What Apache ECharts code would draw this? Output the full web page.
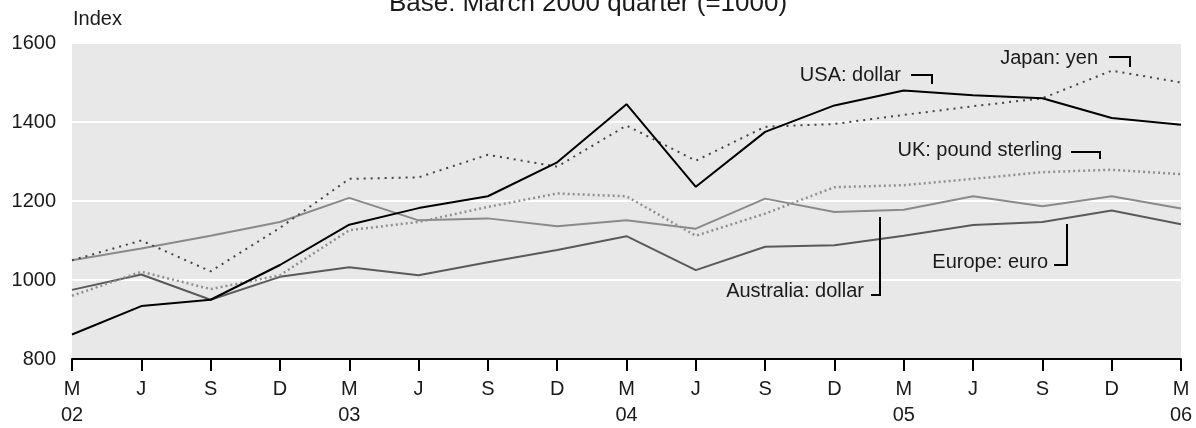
<!DOCTYPE html>
<html><head><meta charset="utf-8">
<script src="https://cdn.jsdelivr.net/npm/echarts@6/dist/echarts.min.js"></script>
<style>html,body{margin:0;padding:0;background:#fff}#c{width:1196px;height:428px}</style>
</head><body><div id="c"></div>
<script>
// Quarter labels
const months = ['M','J','S','D','M','J','S','D','M','J','S','D','M','J','S','D','M'];
const years  = ['02','','','','03','','','','04','','','','05','','','','06'];
// Index values, base March 2000 quarter = 1000
const usaDollar       = [862, 934, 950, 1038, 1140, 1182, 1212, 1298, 1445, 1236, 1375, 1442, 1480, 1468, 1460, 1410, 1393];
const japanYen        = [1050, 1100, 1022, 1132, 1256, 1260, 1317, 1287, 1391, 1302, 1388, 1395, 1418, 1440, 1460, 1530, 1500];
const ukPound         = [960, 1021, 977, 1012, 1126, 1147, 1185, 1219, 1212, 1112, 1168, 1235, 1240, 1256, 1273, 1279, 1268];
const australiaDollar = [1050, 1080, 1112, 1147, 1208, 1151, 1156, 1136, 1151, 1130, 1206, 1172, 1178, 1212, 1187, 1212, 1181];
const europeEuro      = [975, 1014, 950, 1008, 1032, 1012, 1045, 1076, 1111, 1025, 1084, 1088, 1112, 1139, 1147, 1176, 1141];
const yTicks = {min: 800, max: 1600, interval: 200};

const categories = months.map((m, i) => m + '|' + i);
const FONT = '"Liberation Sans", Arial, sans-serif';
const TXT = '#1a1a1a';

const chart = echarts.init(document.getElementById('c'), null, {renderer: 'canvas'});

function label(text, x, y, align) {
  return {type: 'text', x: x, y: y, silent: true, z: 100,
    style: {text: text, fill: TXT, font: '20px ' + FONT, textAlign: align, textVerticalAlign: 'middle', align: align, verticalAlign: 'middle'}};
}
function pointer(points) {
  return {type: 'polyline', silent: true, z: 100, shape: {points: points},
    style: {stroke: '#000', lineWidth: 2, fill: null}};
}

const option = {
  animation: false,
  grid: {left: 72, right: 15, top: 43, bottom: 69, show: true, backgroundColor: '#e8e8e8', borderWidth: 0},
  xAxis: {
    type: 'category', data: categories, boundaryGap: false,
    axisLine: {lineStyle: {color: '#000', width: 2}},
    axisTick: {length: 12, lineStyle: {color: '#000', width: 2}},
    axisLabel: {interval: 0, color: TXT, fontSize: 20, fontFamily: FONT, lineHeight: 26, margin: 17,
      formatter: function (v, i) { return years[i] ? months[i] + '\n' + years[i] : months[i]; }},
    splitLine: {show: false}
  },
  yAxis: {
    type: 'value', min: yTicks.min, max: yTicks.max, interval: yTicks.interval,
    axisLine: {show: false}, axisTick: {show: false},
    axisLabel: {color: TXT, fontSize: 20, fontFamily: FONT, margin: 16, formatter: function (v) { return String(v); }},
    splitLine: {lineStyle: {color: '#ffffff', width: 2}}
  },
  series: [
    {name: 'Australia: dollar', type: 'line', data: australiaDollar, symbol: 'none', lineStyle: {color: '#8a8a8a', width: 2}},
    {name: 'Europe: euro', type: 'line', data: europeEuro, symbol: 'none', lineStyle: {color: '#5a5a5a', width: 2}},
    {name: 'UK: pound sterling', type: 'line', data: ukPound, symbol: 'none', lineStyle: {color: '#909090', width: 2.5, type: [2, 3]}},
    {name: 'Japan: yen', type: 'line', data: japanYen, symbol: 'none', lineStyle: {color: '#444', width: 2, type: [2, 5]}},
    {name: 'USA: dollar', type: 'line', data: usaDollar, symbol: 'none', lineStyle: {color: '#000', width: 2}}
  ],
  graphic: [
    {type: 'text', x: 588, y: 4, silent: true,
      style: {text: 'Base: March 2000 quarter (=1000)', fill: TXT, font: '26px ' + FONT, textAlign: 'center', textVerticalAlign: 'middle', align: 'center', verticalAlign: 'middle'}},
    label('Index', 73, 19, 'left'),
    label('USA: dollar', 901, 75, 'right'),
    pointer([[911, 75], [932, 75], [932, 84]]),
    label('Japan: yen', 1098, 58, 'right'),
    pointer([[1109, 57], [1130, 57], [1130, 67]]),
    label('UK: pound sterling', 1062, 150, 'right'),
    pointer([[1071, 152], [1100, 152], [1100, 159]]),
    label('Europe: euro', 1048, 262, 'right'),
    pointer([[1054, 265], [1067, 265], [1067, 224]]),
    label('Australia: dollar', 864, 291, 'right'),
    pointer([[871, 295], [880, 295], [880, 217]])
  ]
};
chart.setOption(option);
</script>
</body></html>
